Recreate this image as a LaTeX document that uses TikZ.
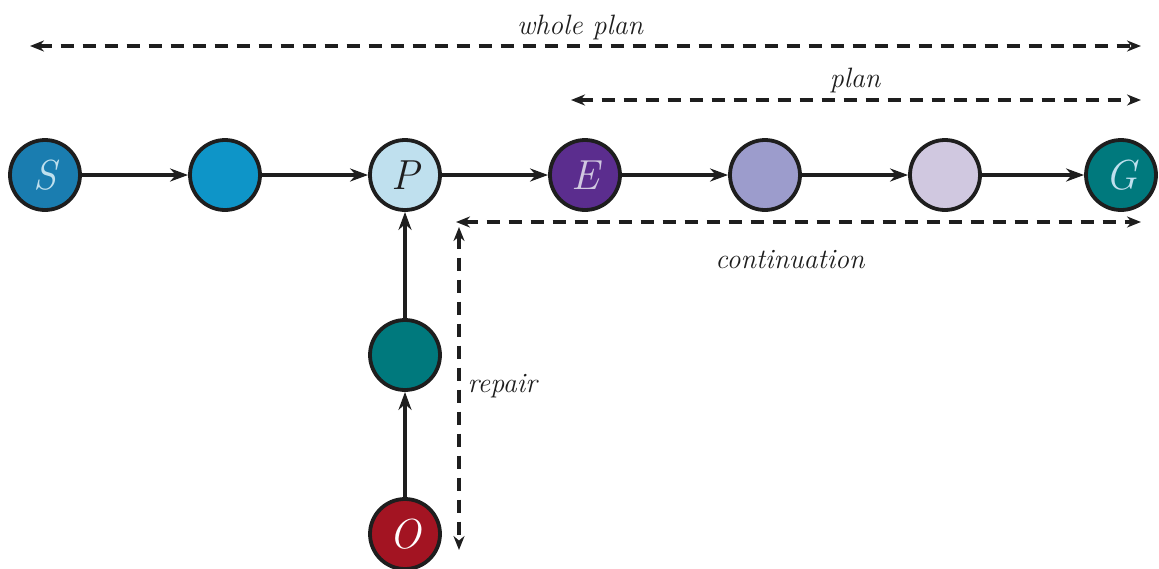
\documentclass[tikz,border=0pt]{standalone}
\usetikzlibrary{arrows.meta}
\definecolor{cS}{HTML}{1A7DB0}
\definecolor{cB}{HTML}{0E95C8}
\definecolor{cP}{HTML}{BFE0EE}
\definecolor{cE}{HTML}{5B2D8E}
\definecolor{cF}{HTML}{9C9CCC}
\definecolor{cH}{HTML}{D0C8E0}
\definecolor{cG}{HTML}{00797D}
\definecolor{cO}{HTML}{A31422}
\definecolor{ink}{HTML}{1E1E1E}
\tikzset{
  st/.style={circle, draw=ink, line width=3.8pt, minimum size=70pt, inner sep=0pt,
    font=\fontsize{42}{42}\selectfont\itshape},
  conn/.style={line width=3.6pt, draw=ink, -{Stealth[length=18pt,width=13pt]}},
  span/.style={line width=3.2pt, draw=ink, dash pattern=on 13pt off 9pt,
    {Stealth[length=14pt,width=11pt]}-{Stealth[length=14pt,width=11pt]}},
  lab/.style={font=\fontsize{28}{28}\selectfont\itshape, text=ink}
}
\begin{document}
\begin{tikzpicture}[x=1pt,y=-1pt]
\useasboundingbox (0,0) rectangle (1159,568);
\node[st, fill=cS, text=cP] (S) at (45,175) {S};
\node[st, fill=cB] (B) at (225,175) {};
\node[st, fill=cP, text=ink] (P) at (405,175) {P};
\node[st, fill=cE, text=cH] (E) at (585,175) {E};
\node[st, fill=cF] (F) at (765,175) {};
\node[st, fill=cH] (H) at (945,175) {};
\node[st, fill=cG, text=cP] (G) at (1121,175) {G};
\node[st, fill=cG] (M) at (405,355) {};
\node[st, fill=cO, text=white] (O) at (405,534) {O};
\draw[conn] (S) -- (B);
\draw[conn] (B) -- (P);
\draw[conn] (P) -- (E);
\draw[conn] (E) -- (F);
\draw[conn] (F) -- (H);
\draw[conn] (H) -- (G);
\draw[conn] (O) -- (M);
\draw[conn] (M) -- (P);
\coordinate (w1) at (30,46);
\coordinate (w2) at (1141,46);
\coordinate (p1) at (571,100);
\coordinate (p2) at (1141,100);
\coordinate (c1) at (456,222);
\coordinate (c2) at (1141,222);
\coordinate (r1) at (459,227);
\coordinate (r2) at (459,550);
\draw[span] (w1) -- (w2);
\draw[span] (p1) -- (p2);
\draw[span] (c1) -- (c2);
\draw[span] (r1) -- (r2);
\node[lab] (tw) at (580,27) {whole plan};
\node[lab] (tp) at (855,80) {plan};
\node[lab] (tc) at (790,260) {continuation};
\node[lab, anchor=west] (tr) at (464,386) {repair};
\end{tikzpicture}
\end{document}
